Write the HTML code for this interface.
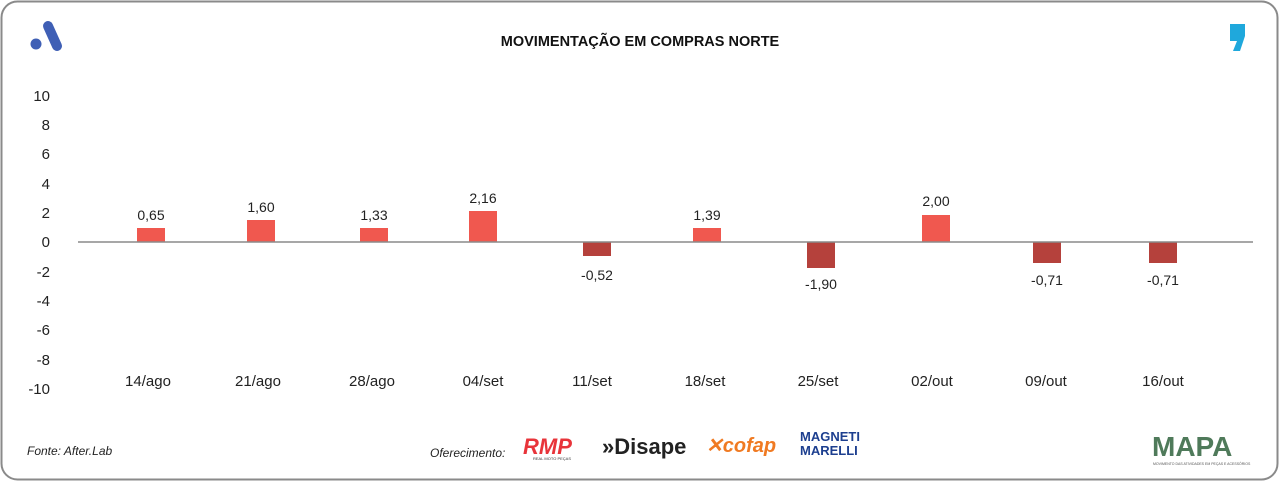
<!DOCTYPE html>
<html><head><meta charset="utf-8"><style>
body{margin:0;width:1280px;height:483px;background:#fff;overflow:hidden;font-family:"Liberation Sans",sans-serif}
</style></head><body>
<svg width="1280" height="483" xmlns="http://www.w3.org/2000/svg" font-family="Liberation Sans, sans-serif">
<rect x="1.5" y="1.5" width="1276" height="478" rx="16" fill="#fff" stroke="#8a8a8a" stroke-width="2"/>
<line x1="48" y1="26" x2="57" y2="46" stroke="#3f5fb5" stroke-width="10" stroke-linecap="round"/>
<circle cx="36" cy="44" r="5.5" fill="#3f5fb5"/>
<path d="M1230 24 h15 v12 l-5 15 h-7 l4 -10 h-7 z" fill="#1fa8dc"/>
<text x="640" y="46" text-anchor="middle" font-size="14.5" font-weight="bold" fill="#111">MOVIMENTAÇÃO EM COMPRAS NORTE</text>
<g font-size="15" fill="#222" text-anchor="end">
<text x="50" y="101">10</text><text x="50" y="130">8</text><text x="50" y="159">6</text><text x="50" y="189">4</text><text x="50" y="218">2</text><text x="50" y="247">0</text><text x="50" y="277">-2</text><text x="50" y="306">-4</text><text x="50" y="335">-6</text><text x="50" y="365">-8</text><text x="50" y="394">-10</text>
</g>
<g fill="#f0584f">
<rect x="137" y="228" width="28" height="14"/><rect x="247" y="220" width="28" height="22"/><rect x="360" y="228" width="28" height="14"/><rect x="469" y="211" width="28" height="31"/><rect x="693" y="228" width="28" height="14"/><rect x="922" y="215" width="28" height="27"/>
</g>
<g fill="#b5413c">
<rect x="583" y="242" width="28" height="14"/><rect x="807" y="242" width="28" height="26"/><rect x="1033" y="242" width="28" height="21"/><rect x="1149" y="242" width="28" height="21"/>
</g>
<line x1="78" y1="242" x2="1253" y2="242" stroke="#8a8a8a" stroke-width="1.5"/>
<g font-size="14" fill="#222" text-anchor="middle">
<text x="151" y="220">0,65</text><text x="261" y="212">1,60</text><text x="374" y="220">1,33</text><text x="483" y="203">2,16</text><text x="597" y="280">-0,52</text><text x="707" y="220">1,39</text><text x="821" y="289">-1,90</text><text x="936" y="206">2,00</text><text x="1047" y="285">-0,71</text><text x="1163" y="285">-0,71</text>
</g>
<g font-size="15" fill="#222" text-anchor="middle">
<text x="148" y="386">14/ago</text><text x="258" y="386">21/ago</text><text x="372" y="386">28/ago</text><text x="483" y="386">04/set</text><text x="592" y="386">11/set</text><text x="705" y="386">18/set</text><text x="818" y="386">25/set</text><text x="932" y="386">02/out</text><text x="1046" y="386">09/out</text><text x="1163" y="386">16/out</text>
</g>
<text x="27" y="455" font-size="12" font-style="italic" fill="#222">Fonte: After.Lab</text>
<text x="430" y="457" font-size="12" font-style="italic" fill="#222">Oferecimento:</text>
<text x="523" y="454" font-size="22" font-weight="bold" font-style="italic" fill="#e8343a">RMP</text>
<text x="533" y="460" font-size="4" fill="#333">REAL MOTO PEÇAS</text>
<text x="602" y="454" font-size="22" font-weight="bold" fill="#222">»Disape</text>
<text x="706" y="452" font-size="20" font-weight="bold" font-style="italic" fill="#f07a22">✕cofap</text>
<text x="800" y="441" font-size="13" font-weight="bold" fill="#1d3f8f">MAGNETI</text>
<text x="800" y="455" font-size="13" font-weight="bold" fill="#1d3f8f">MARELLI</text>
<text x="1152" y="456" font-size="28" font-weight="bold" fill="#4f7a5a">MAPA</text>
<text x="1153" y="465" font-size="3.5" fill="#555">MOVIMENTO DAS ATIVIDADES EM PEÇAS E ACESSÓRIOS</text>
</svg>
</body></html>
